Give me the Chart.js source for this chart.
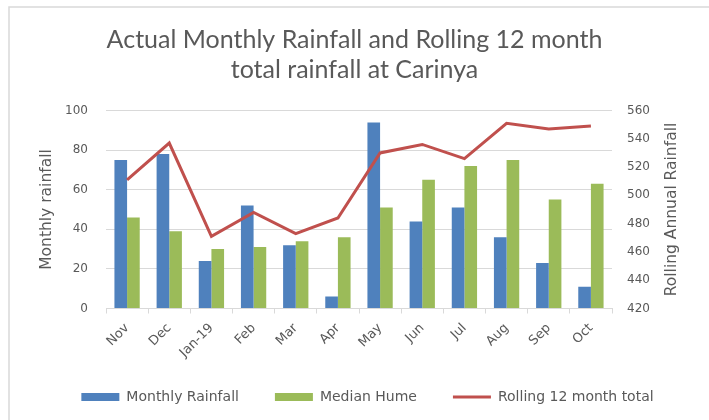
<!DOCTYPE html>
<html>
<head>
<meta charset="utf-8">
<script src="https://cdn.jsdelivr.net/npm/chart.js@4/dist/chart.umd.min.js"></script>
<style>
  html, body { margin: 0; padding: 0; background: #ffffff; }
  #wrap { width: 709px; height: 420px; position: relative; }
</style>
</head>
<body>
<div id="wrap"><canvas id="c" width="709" height="420"></canvas></div>
<script>
const categories = ['Nov', 'Dec', 'Jan-19', 'Feb', 'Mar', 'Apr', 'May', 'Jun', 'Jul', 'Aug', 'Sep', 'Oct'];
const monthlyRainfall = [75, 78, 24, 52, 32, 6, 94, 44, 51, 36, 23, 11];
const medianHume = [46, 39, 30, 31, 34, 36, 51, 65, 72, 75, 55, 63];
const rolling12Month = [511, 537, 471, 488, 473, 484, 530, 536, 526, 551, 547, 549];
const titleLines = ['Actual Monthly Rainfall and Rolling 12 month', 'total rainfall at Carinya'];
const leftAxisTitle = 'Monthly rainfall';
const rightAxisTitle = 'Rolling Annual Rainfall';
const seriesNames = ['Monthly Rainfall', 'Median Hume', 'Rolling 12 month total'];

const TXT = '#595959';
const GRID = '#d9d9d9';
const tickFont = { family: 'DejaVu Sans', size: 12 };

const framePlugin = {
  id: 'frame',
  beforeDraw(chart) {
    const ctx = chart.ctx;
    ctx.save();
    ctx.fillStyle = '#ffffff';
    ctx.fillRect(0, 0, chart.width, chart.height);
    ctx.strokeStyle = '#d9d9d9';
    ctx.lineWidth = 1.5;
    ctx.strokeRect(9, 7, chart.width + 20, chart.height + 20);
    ctx.restore();
    if (chart.legend) { chart.legend.left = 26; chart.legend.right = 709; }
    if (chart.scales.x) { chart.scales.x.bottom = chart.height; }
  },
  afterDraw(chart) {
    const ctx = chart.ctx;
    const area = chart.chartArea;
    const midY = (area.top + area.bottom) / 2;
    ctx.save();
    ctx.fillStyle = TXT;
    ctx.font = '15.5px "DejaVu Sans"';
    ctx.textAlign = 'center';
    ctx.textBaseline = 'middle';
    ctx.translate(47, midY);
    ctx.rotate(-Math.PI / 2);
    ctx.fillText(leftAxisTitle, 0, 0);
    ctx.restore();
    ctx.save();
    ctx.fillStyle = TXT;
    ctx.font = '15.5px "DejaVu Sans"';
    ctx.textAlign = 'center';
    ctx.textBaseline = 'middle';
    ctx.translate(672, midY);
    ctx.rotate(-Math.PI / 2);
    ctx.fillText(rightAxisTitle, 0, 0);
    ctx.restore();
  }
};

new Chart(document.getElementById('c'), {
  type: 'bar',
  data: {
    labels: categories,
    datasets: [
      { label: seriesNames[0], data: monthlyRainfall, backgroundColor: '#4F81BD', yAxisID: 'y', order: 2, pointStyle: 'rect', categoryPercentage: 0.6, barPercentage: 1.0 },
      { label: seriesNames[1], data: medianHume, backgroundColor: '#9BBB59', yAxisID: 'y', order: 3, pointStyle: 'rect', categoryPercentage: 0.6, barPercentage: 1.0 },
      { type: 'line', label: seriesNames[2], data: rolling12Month, borderColor: '#C0504D', backgroundColor: '#C0504D', borderWidth: 3, pointRadius: 0, pointStyle: 'line', tension: 0, yAxisID: 'y1', order: 1 }
    ]
  },
  options: {
    responsive: false,
    animation: false,
    devicePixelRatio: 1,
    layout: { padding: { top: 0, left: 0, right: 0, bottom: 6 } },
    plugins: {
      title: {
        display: true,
        text: titleLines,
        color: TXT,
        font: { family: 'Lato', size: 25, weight: 'normal', lineHeight: 30 / 25 },
        padding: { top: 25, bottom: 25.5 }
      },
      legend: {
        position: 'bottom',
        labels: {
          color: TXT,
          font: { family: 'DejaVu Sans', size: 14 },
          usePointStyle: true,
          pointStyleWidth: 38,
          boxHeight: 8,
          padding: 36,
          sort: (a, b) => a.datasetIndex - b.datasetIndex
        }
      },
      tooltip: { enabled: false }
    },
    scales: {
      x: {
        grid: { drawOnChartArea: false, drawTicks: true, tickLength: 5, color: GRID, offset: true },
        border: { color: GRID },
        ticks: { color: TXT, font: { family: 'DejaVu Sans', size: 13 }, maxRotation: 45, minRotation: 45, padding: 7 },
        afterFit(scale) { scale.height = 45.5; }
      },
      y: {
        position: 'left',
        min: 0, max: 100,
        ticks: { stepSize: 20, color: TXT, font: tickFont, padding: 18 },
        grid: { color: GRID, drawTicks: false },
        border: { display: false },
        afterFit(scale) { scale.width = 106; }
      },
      y1: {
        position: 'right',
        min: 420, max: 560,
        ticks: { stepSize: 20, color: TXT, font: tickFont, padding: 15 },
        grid: { drawOnChartArea: false, drawTicks: false },
        border: { display: false },
        afterFit(scale) { scale.width = 97; }
      }
    }
  },
  plugins: [framePlugin]
});
</script>
</body>
</html>
